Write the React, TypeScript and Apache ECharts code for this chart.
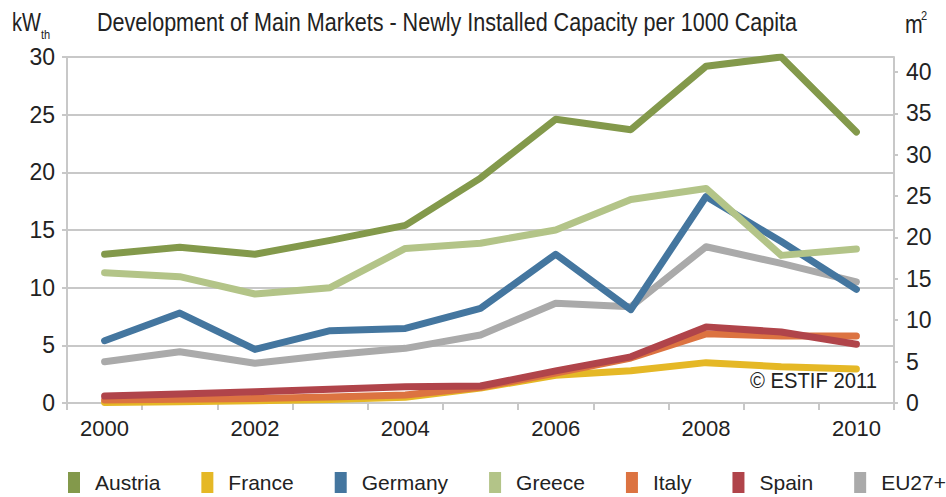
import React, { useEffect, useRef } from "react";
import * as echarts from "echarts";

const years = ["2000", "2001", "2002", "2003", "2004", "2005", "2006", "2007", "2008", "2009", "2010"];
const austria = [12.9, 13.5, 12.9, 14.1, 15.4, 19.5, 24.6, 23.7, 29.2, 30.0, 23.5];
const france = [0.05, 0.1, 0.2, 0.3, 0.5, 1.3, 2.4, 2.8, 3.5, 3.15, 2.95];
const germany = [5.4, 7.8, 4.65, 6.27, 6.47, 8.2, 12.9, 8.1, 17.9, 14.0, 9.85];
const greece = [11.3, 10.95, 9.45, 10.0, 13.4, 13.85, 15.0, 17.65, 18.6, 12.8, 13.35];
const italy = [0.26, 0.32, 0.4, 0.52, 0.7, 1.36, 2.6, 3.9, 6.0, 5.8, 5.8];
const spain = [0.6, 0.78, 0.98, 1.19, 1.4, 1.47, 2.78, 4.0, 6.6, 6.15, 5.1];
const eu27 = [3.58, 4.45, 3.44, 4.16, 4.74, 5.9, 8.65, 8.35, 13.55, 12.1, 10.5];

const leftTicks = [0, 5, 10, 15, 20, 25, 30];
const rightTicks = [0, 5, 10, 15, 20, 25, 30, 35, 40];
const rightMax = 41.8;

const legendOrder = ["Austria", "France", "Germany", "Greece", "Italy", "Spain", "EU27+"];

const SANS = '"Liberation Sans", Arial, sans-serif';
const GRID = "#c8c8c8";
const INK = "#222222";

export default function App() {
  const ref = useRef<HTMLDivElement>(null);
  useEffect(() => {
    if (!ref.current) return;
    const chart = echarts.init(ref.current, null, { renderer: "svg" });
    const line = (name: string, data: number[], color: string) => ({
      name,
      type: "line",
      data,
      yAxisIndex: 0,
      symbol: "none",
      lineStyle: { color, width: 7, cap: "round", join: "round" },
      itemStyle: { color },
    });
    const txt = (text: string, x: number, y: number, size: number, sx: number) => ({
      type: "text",
      x,
      y,
      scaleX: sx,
      style: { text, x: 0, y: 0, font: `${size}px ${SANS}`, fill: INK, textVerticalAlign: "middle", textAlign: "left" },
    });
    chart.setOption({
      animation: false,
      backgroundColor: "#ffffff",
      grid: { left: 67, right: 52, top: 57, bottom: 94 },
      legend: {
        data: legendOrder,
        left: 68,
        top: 472,
        width: 878,
        padding: 0,
        icon: "rect",
        itemWidth: 12,
        itemHeight: 21,
        itemGap: 41,
        textStyle: { fontFamily: SANS, fontSize: 21, color: INK, padding: [0, 0, 0, 10] },
      },
      graphic: [
        txt("Development of Main Markets - Newly Installed Capacity per 1000 Capita", 97, 22, 26, 0.83),
        txt("kW", 12, 23, 25, 0.8),
        txt("th", 41, 35, 13, 0.85),
        txt("m", 905, 24, 25, 0.85),
        txt("2", 921, 16, 13, 0.85),
        txt("© ESTIF 2011", 750, 380, 22, 0.92),
      ],
      xAxis: {
        type: "category",
        data: years,
        boundaryGap: true,
        axisLine: { lineStyle: { color: GRID, width: 2 } },
        axisTick: { show: true, interval: 0, length: 7, lineStyle: { color: GRID, width: 2 } },
        axisLabel: { interval: 1, color: INK, fontFamily: SANS, fontSize: 22, margin: 14 },
        splitLine: { show: false },
      },
      yAxis: [
        {
          type: "value",
          min: 0,
          max: 30,
          interval: 5,
          position: "left",
          axisLine: { show: true, lineStyle: { color: GRID, width: 2 } },
          axisTick: { show: true, length: 5, lineStyle: { color: GRID, width: 2 } },
          axisLabel: { color: INK, fontFamily: SANS, fontSize: 23, margin: 12, customValues: leftTicks },
          splitLine: { show: true, lineStyle: { color: GRID, width: 2 } },
        },
        {
          type: "value",
          min: 0,
          max: rightMax,
          interval: 5,
          position: "right",
          axisLine: { show: true, lineStyle: { color: GRID, width: 2 } },
          axisTick: { show: true, length: 4, lineStyle: { color: GRID, width: 2 }, customValues: rightTicks },
          axisLabel: { color: INK, fontFamily: SANS, fontSize: 23, margin: 12, customValues: rightTicks },
          splitLine: { show: false },
        },
      ],
      series: [
        line("EU27+", eu27, "#aaaaaa"),
        line("Austria", austria, "#83994b"),
        line("France", france, "#e5b826"),
        line("Germany", germany, "#44769f"),
        line("Greece", greece, "#b3c488"),
        line("Italy", italy, "#dc7341"),
        line("Spain", spain, "#b0444a"),
      ],
    });
    return () => chart.dispose();
  }, []);
  return <div ref={ref} style={{ position: "fixed", left: 0, top: 0, width: 946, height: 497 }} />;
}
